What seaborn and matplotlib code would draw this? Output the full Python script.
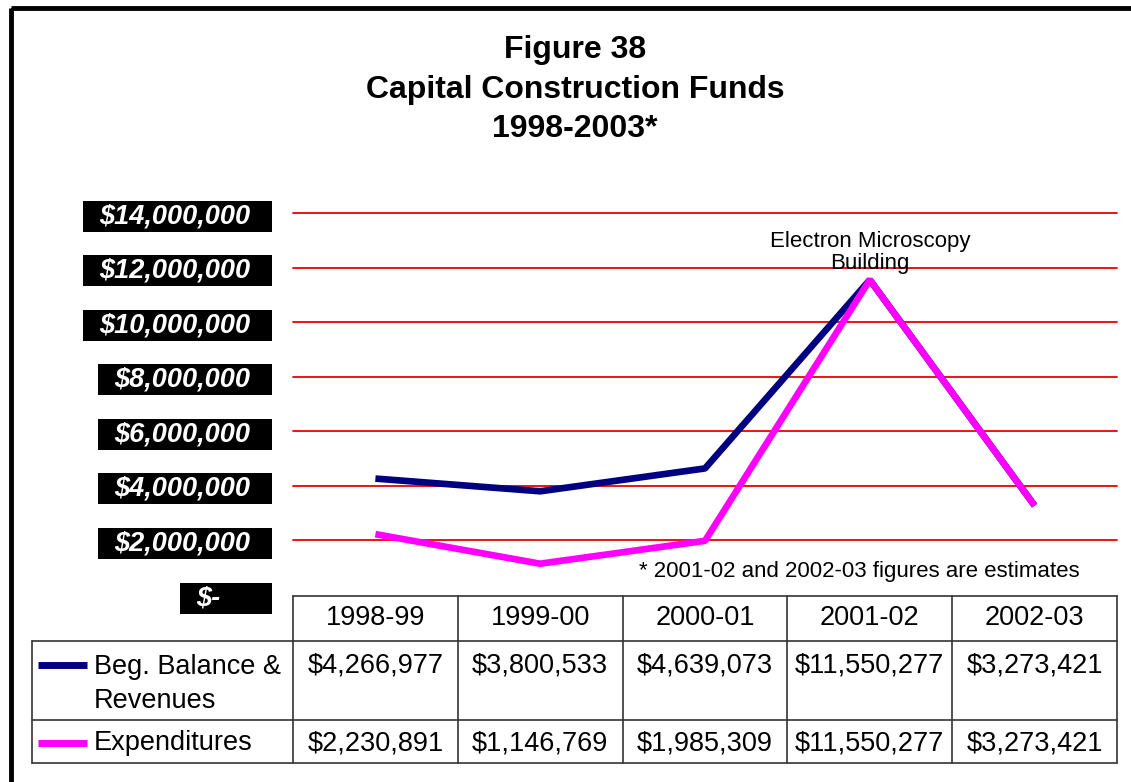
import matplotlib
matplotlib.use("Agg")
import pandas as pd
import matplotlib.pyplot as plt
from matplotlib.patches import Rectangle
import seaborn as sns

years = ["1998-99", "1999-00", "2000-01", "2001-02", "2002-03"]
balance = [4266977, 3800533, 4639073, 11550277, 3273421]
spending = [2230891, 1146769, 1985309, 11550277, 3273421]
series_names = ["Beg. Balance &\nRevenues", "Expenditures"]
series_colors = ["#000080", "#ff00ff"]
tick_vals = [0, 2000000, 4000000, 6000000, 8000000, 10000000, 12000000, 14000000]
tick_labels = ["$-    ", "$2,000,000", "$4,000,000", "$6,000,000", "$8,000,000",
               "$10,000,000", "$12,000,000", "$14,000,000"]
peak_note = "Electron Microscopy\nBuilding"
foot_note = "* 2001-02 and 2002-03 figures are estimates"

sns.set_style("white")
plt.rcParams['font.family'] = ['Liberation Sans', 'DejaVu Sans']
plt.rcParams['text.color'] = 'black'

W, H = 1131, 782
fig = plt.figure(figsize=(W / 100, H / 100), dpi=100)

# capa de fondo en pixeles para tabla, marco y cajas
over = fig.add_axes([0, 0, 1, 1], zorder=0)
over.set_xlim(0, W)
over.set_ylim(H, 0)
over.axis('off')

ax = fig.add_axes([293 / W, 1 - 595 / H, (1117 - 293) / W, (595 - 213) / H], zorder=1)
ax.patch.set_alpha(0)

df = pd.DataFrame({
    "year": years * 2,
    "value": balance + spending,
    "series": [series_names[0]] * 5 + [series_names[1]] * 5,
})
sns.lineplot(data=df, x="year", y="value", hue="series", palette=series_colors,
             linewidth=4.8, legend=False, sort=False, ax=ax,
             solid_capstyle='butt', solid_joinstyle='bevel')

for v in tick_vals[1:]:
    ax.axhline(v, color='#ee0000', lw=1.3, zorder=0, clip_on=False)

ax.set_xlim(-0.5, 4.5)
ax.set_ylim(0, 14000000)
ax.set_xticks([])
ax.set_xlabel('')
ax.set_ylabel('')
ax.set_yticks(tick_vals, labels=tick_labels)
ax.tick_params(axis='y', length=0, pad=31, labelcolor='white', labelsize=19.5)
for lbl in ax.get_yticklabels():
    lbl.set_fontweight('bold')
    lbl.set_fontstyle('italic')
sns.despine(ax=ax, left=True, bottom=True)

ax.annotate(peak_note, xy=(3, balance[3]), xytext=(0, 4), textcoords='offset points',
            ha='center', va='bottom', fontsize=16, linespacing=1.05)

# titulo
fig.text(575 / W, 1 - 35 / H, "Figure 38\nCapital Construction Funds\n1998-2003*",
         ha='center', va='top', fontsize=23, fontweight='bold', linespacing=1.42)

over.text(859, 572, foot_note, ha='center', va='center', fontsize=16)

# marco exterior
over.add_patch(Rectangle((10.5, 8), 1300, 1000, fill=False, ec='black', lw=3.5))

# cajas negras de las etiquetas del eje y
fig.canvas.draw()
rend = fig.canvas.get_renderer()
for lbl in ax.get_yticklabels():
    bb = lbl.get_window_extent(rend)
    cy = H - (bb.y0 + bb.y1) / 2
    over.add_patch(Rectangle((bb.x0 - 16, cy - 15.5), 272 - (bb.x0 - 16), 31,
                             facecolor='black', edgecolor='none'))

# tabla de datos
edges = [293 + 164.8 * i for i in range(6)]
lc = '#333333'
over.plot([293, 1117], [596, 596], color=lc, lw=1.2)
for y in [641, 720, 763]:
    over.plot([32, 1117], [y, y], color=lc, lw=1.2)
over.plot([32, 32], [641, 763], color=lc, lw=1.2)
for x in edges:
    over.plot([x, x], [596, 763], color=lc, lw=1.2)

fs = 19.5
for i, yr in enumerate(years):
    cx = (edges[i] + edges[i + 1]) / 2
    over.text(cx, 618, yr, ha='center', va='center', fontsize=fs)
    over.text(cx, 665, f"${balance[i]:,}", ha='center', va='center', fontsize=fs)
    over.text(cx, 743, f"${spending[i]:,}", ha='center', va='center', fontsize=fs)

over.plot([38, 87], [665, 665], color=series_colors[0], lw=5, solid_capstyle='butt')
over.plot([38, 87], [743, 743], color=series_colors[1], lw=5, solid_capstyle='butt')
over.text(94, 684, series_names[0], ha='left', va='center', fontsize=fs, linespacing=1.42)
over.text(94, 743, series_names[1], ha='left', va='center', fontsize=fs)

fig.savefig('out.png', dpi=100)
